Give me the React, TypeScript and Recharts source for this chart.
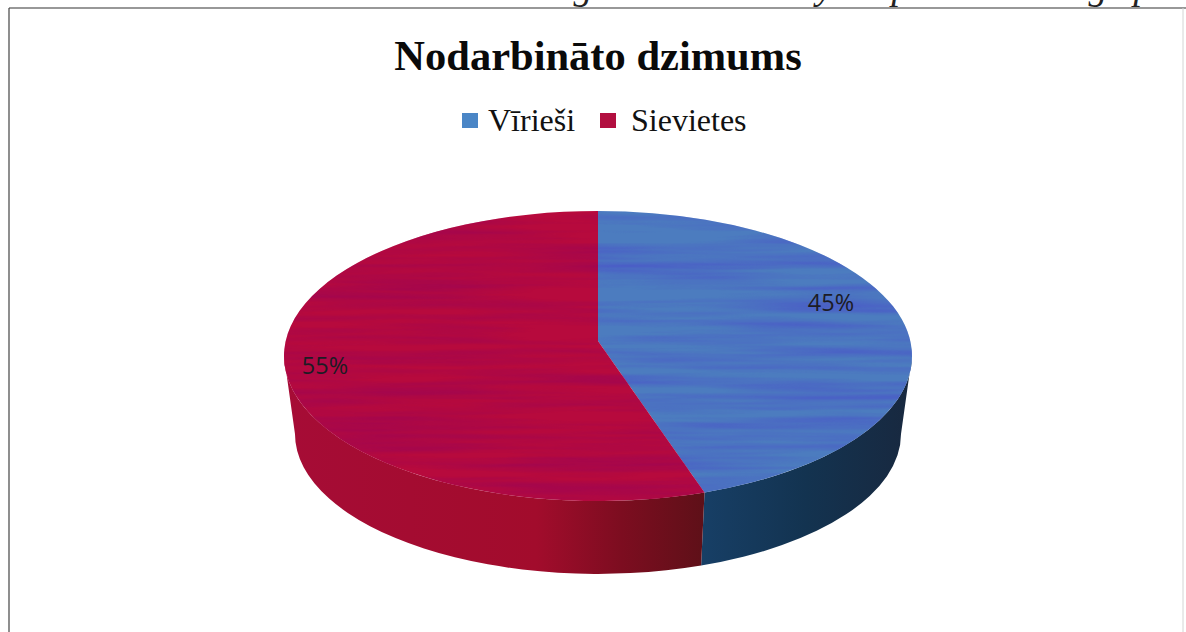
import React from 'react'
import { PieChart, Pie, Cell, Legend } from 'recharts'

const categories = ['Vīrieši', 'Sievietes']
const values = [45, 55]

const FACE_COLORS = ['#4c7cbf', '#b70a3d']
const FACE_FILTERS = ['url(#blueScan)', 'url(#redScan)']
const LEGEND_COLORS = ['#4a86c6', '#b20f40']
const WALL_COLORS = ['url(#blueWall)', 'url(#redWall)']
// label nudges from the pie centre, the 3d pie does not put them on the mid angle
const LABEL_OFFSETS = [
  { dx: 233, dy: -54 },
  { dx: -273, dy: 9 },
]
const CUT_GLYPHS = [
  { ch: 'g', x: 583 },
  { ch: 'y', x: 825 },
  { ch: 'p', x: 901 },
  { ch: 'g', x: 1098 },
  { ch: 'p', x: 1143 },
]

const data = categories.map((name, i) => ({ name, value: values[i] }))

const SERIF = "'Liberation Serif', serif"
const SQUASH = 145 / 314
const APEX_SHIFT = 15
const DEPTH_CY = 78
const BOTTOM_SCALE = 0.965

// point on the rim for a recharts angle, with the apex pushed up for the tilt
function rimPoint(angle: number, cx: number, cy: number, rx: number, ry: number) {
  const t = ((90 - angle) * Math.PI) / 180
  const py = -APEX_SHIFT / ry
  const dx = Math.sin(t)
  const dy = -Math.cos(t)
  const dot = py * dy
  const k = -dot + Math.sqrt(dot * dot - (py * py - 1))
  return { x: cx + k * dx * rx, y: cy + (py + k * dy) * ry }
}

function FaceSector(props: any) {
  const { cx, cy, outerRadius, startAngle, endAngle, fill, filter } = props
  const ry = outerRadius * SQUASH
  const a = rimPoint(startAngle, cx, cy, outerRadius, ry)
  const b = rimPoint(endAngle, cx, cy, outerRadius, ry)
  const large = Math.abs(endAngle - startAngle) > 180 ? 1 : 0
  const d = `M${cx},${cy - APEX_SHIFT} L${a.x},${a.y} A${outerRadius},${ry} 0 ${large} 1 ${b.x},${b.y} Z`
  return <path d={d} fill={fill} filter={filter} />
}

function WallSector(props: any) {
  const { cx, cy, outerRadius, startAngle, endAngle, fill } = props
  // only the front half of the rim shows
  const from = Math.min(startAngle, 0)
  const to = Math.max(endAngle, -180)
  if (from <= to) return null
  const ry = outerRadius * SQUASH
  const rx2 = outerRadius * BOTTOM_SCALE
  const ry2 = ry * BOTTOM_SCALE
  const cy2 = cy + DEPTH_CY
  const a = from === 0 ? { x: cx + outerRadius, y: cy } : rimPoint(from, cx, cy, outerRadius, ry)
  const b = to === -180 ? { x: cx - outerRadius, y: cy } : rimPoint(to, cx, cy, outerRadius, ry)
  const c = to === -180 ? { x: cx - rx2, y: cy2 } : rimPoint(to, cx, cy2, rx2, ry2)
  const e = from === 0 ? { x: cx + rx2, y: cy2 } : rimPoint(from, cx, cy2, rx2, ry2)
  const d = `M${a.x},${a.y} A${outerRadius},${ry} 0 0 1 ${b.x},${b.y} L${c.x},${c.y} A${rx2},${ry2} 0 0 0 ${e.x},${e.y} Z`
  return <path d={d} fill={fill} />
}

function renderLabel(props: any) {
  const { cx, cy, index, percent } = props
  const off = LABEL_OFFSETS[index]
  return (
    <text
      x={cx + off.dx}
      y={cy + off.dy}
      textAnchor="middle"
      dominantBaseline="central"
      fontFamily="'Open Sans', sans-serif"
      fontSize={23.5}
      fill="#1c1c24"
    >
      {`${Math.round(percent * 100)}%`}
    </text>
  )
}

function LegendRow(props: any) {
  const items = (props.payload || []).filter((item: any) => item.type !== 'none').slice(0, 2)
  return (
    <div style={{ display: 'flex', alignItems: 'center', fontFamily: SERIF, fontSize: 32, color: '#111', lineHeight: '40px' }}>
      {items.map((item: any, i: number) => (
        <div key={item.value} style={{ display: 'flex', alignItems: 'center', width: 138 }}>
          <span style={{ width: 16, height: 15, marginRight: i === 0 ? 10 : 15, background: LEGEND_COLORS[i], flex: 'none' }} />
          <span>{item.value}</span>
        </div>
      ))}
    </div>
  )
}

function ScanFilter({ id, tint }: { id: string; tint: string }) {
  return (
    <filter id={id} x="0" y="0" width="1" height="1" colorInterpolationFilters="sRGB">
      <feTurbulence type="fractalNoise" baseFrequency="0.004 0.1" numOctaves={3} seed={4} result="n" />
      <feColorMatrix in="n" type="matrix" values={`0 0 0 0 ${tint} 1.6 0 0 0 -0.55`} result="t" />
      <feComposite in="t" in2="SourceGraphic" operator="in" result="c" />
      <feMerge>
        <feMergeNode in="SourceGraphic" />
        <feMergeNode in="c" />
      </feMerge>
    </filter>
  )
}

export default function App() {
  return (
    <div style={{ position: 'absolute', left: 0, top: 0, width: 1186, height: 632, overflow: 'hidden', background: '#fff' }}>
      <PieChart width={1186} height={632} margin={{ top: 0, right: 0, bottom: 0, left: 0 }}>
        <defs>
          <ScanFilter id="blueScan" tint="0.29 0 0 0 0 0.35 0 0 0 0 0.78" />
          <ScanFilter id="redScan" tint="0.62 0 0 0 0 0.02 0 0 0 0 0.32" />
          <linearGradient id="blueWall" x1="0" y1="0" x2="1" y2="0">
            <stop offset="0" stopColor="#173f66" />
            <stop offset="0.5" stopColor="#133350" />
            <stop offset="1" stopColor="#18283f" />
          </linearGradient>
          <linearGradient id="redWall" x1="0" y1="0" x2="1" y2="0">
            <stop offset="0" stopColor="#a60c36" />
            <stop offset="0.6" stopColor="#a20c2c" />
            <stop offset="0.8" stopColor="#7d0d20" />
            <stop offset="1" stopColor="#5e1018" />
          </linearGradient>
        </defs>

        <line x1={9} y1={8} x2={1186} y2={8} stroke="#333" strokeWidth={1.2} />
        <line x1={9} y1={8} x2={9} y2={632} stroke="#444" strokeWidth={1.2} />
        <line x1={1183} y1={8} x2={1183} y2={632} stroke="#d4d4d4" strokeWidth={1} />
        {CUT_GLYPHS.map((g, i) => (
          <text key={i} x={g.x} y={-1} textAnchor="middle" fontFamily={SERIF} fontStyle="italic" fontSize={38} fill="#222">
            {g.ch}
          </text>
        ))}
        <text x={598} y={70} textAnchor="middle" fontFamily={SERIF} fontWeight="bold" fontSize={42.5} fill="#0a0a0a">
          Nodarbināto dzimums
        </text>

        <Legend
          verticalAlign="middle"
          align="center"
          itemSorter={null}
          content={LegendRow}
          wrapperStyle={{ top: 100, left: 462, width: 320, height: 40 }}
        />

        <Pie
          data={data}
          dataKey="value"
          nameKey="name"
          cx={598}
          cy={356}
          outerRadius={314}
          startAngle={90}
          endAngle={-270}
          stroke="none"
          legendType="none"
          isAnimationActive={false}
          shape={WallSector}
        >
          {data.map((_, i) => (
            <Cell key={i} fill={WALL_COLORS[i]} />
          ))}
        </Pie>
        <Pie
          data={data}
          dataKey="value"
          nameKey="name"
          cx={598}
          cy={356}
          outerRadius={314}
          startAngle={90}
          endAngle={-270}
          stroke="none"
          isAnimationActive={false}
          shape={FaceSector}
          label={renderLabel}
          labelLine={false}
        >
          {data.map((_, i) => (
            <Cell key={i} fill={FACE_COLORS[i]} filter={FACE_FILTERS[i]} />
          ))}
        </Pie>
      </PieChart>
    </div>
  )
}
